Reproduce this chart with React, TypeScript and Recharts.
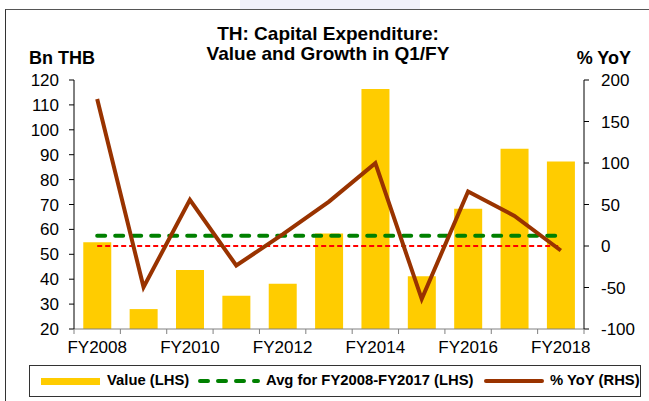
import React from 'react';
import { ComposedChart, Bar, Line, XAxis, YAxis } from 'recharts';

// Q1 capital expenditure, Bn THB, and growth, % YoY
const years = ['FY2008', 'FY2009', 'FY2010', 'FY2011', 'FY2012', 'FY2013', 'FY2014', 'FY2015', 'FY2016', 'FY2017', 'FY2018'];
const capexValue = [54.8, 28.0, 43.7, 33.4, 38.2, 58.4, 116.4, 41.2, 68.3, 92.4, 87.3];
const yoyGrowth = [177, -49.5, 55.6, -23.5, 14, 53.5, 99.8, -63.9, 65.6, 36.3, -5.4];
const avgValue = 57.5; // avg FY2008-FY2017
const zeroLine = 0;

const leftTicks = [20, 30, 40, 50, 60, 70, 80, 90, 100, 110, 120];
const rightTicks = [-100, -50, 0, 50, 100, 150, 200];

const chartData = years.map((year, i) => ({
  year,
  value: capexValue[i],
  avg: avgValue,
  zero: zeroLine,
  yoy: yoyGrowth[i],
}));

const FONT = '"Liberation Sans", Arial, Helvetica, sans-serif';
const PLOT_LEFT = 74;
const PLOT_RIGHT = 584;
const BAND = (PLOT_RIGHT - PLOT_LEFT) / years.length;

// Excel-style category axis: tick marks between categories, every other label
const XTick = (props: any) => {
  const { x, y, index, payload } = props;
  return (
    <g>
      <line x1={x - BAND / 2} y1={y} x2={x - BAND / 2} y2={y + 5} stroke="#808080" />
      {index === years.length - 1 && (
        <line x1={x + BAND / 2} y1={y} x2={x + BAND / 2} y2={y + 5} stroke="#808080" />
      )}
      {index % 2 === 0 && (
        <text x={x} y={y + 24} textAnchor="middle" fontSize={17} fontFamily={FONT} fill="#000">
          {payload.value}
        </text>
      )}
    </g>
  );
};

const legendText: React.CSSProperties = {
  position: 'absolute',
  top: 6,
  fontSize: 14.8,
  fontWeight: 'bold',
  fontFamily: FONT,
  color: '#000',
  whiteSpace: 'nowrap',
};

export default function App() {
  return (
    <div style={{ position: 'absolute', left: 0, top: 0, width: 649, height: 401, background: '#fff', overflow: 'hidden' }}>
      {/* faint watermark above the frame */}
      <div style={{ position: 'absolute', left: 240, top: 0, width: 180, height: 9, background: '#F1F1FA' }} />
      {/* frame */}
      <div
        style={{
          position: 'absolute',
          left: 5,
          top: 9,
          width: 660,
          height: 420,
          borderTop: '1.5px solid #555',
          borderLeft: '1px solid #333',
        }}
      />
      <ComposedChart
        width={649}
        height={401}
        data={chartData}
        margin={{ top: 80, right: 0, bottom: 42, left: 0 }}
        barCategoryGap="20%"
        style={{ position: 'absolute', left: 0, top: 0 }}
      >
        <XAxis
          dataKey="year"
          interval={0}
          tickSize={0}
          tickMargin={0}
          tick={XTick}
          height={30}
          stroke="#808080"
        />
        <YAxis
          yAxisId="left"
          width={74}
          domain={[20, 120]}
          ticks={leftTicks}
          interval={0}
          tickSize={5}
          tickMargin={10}
          stroke="#000"
          tick={{ fontSize: 17, fill: '#000', fontFamily: FONT }}
          allowDataOverflow
        />
        <YAxis
          yAxisId="right"
          orientation="right"
          width={65}
          domain={[-100, 200]}
          ticks={rightTicks}
          interval={0}
          tickSize={5}
          tickMargin={12}
          stroke="#000"
          tick={{ fontSize: 17, fill: '#000', fontFamily: FONT }}
          allowDataOverflow
        />
        <Bar yAxisId="left" dataKey="value" fill="#FFCC00" isAnimationActive={false} />
        <Line
          yAxisId="right"
          dataKey="zero"
          type="linear"
          stroke="#FF0000"
          strokeWidth={2}
          strokeDasharray="5 3"
          dot={false}
          activeDot={false}
          isAnimationActive={false}
        />
        <Line
          yAxisId="left"
          dataKey="avg"
          type="linear"
          stroke="#008000"
          strokeWidth={4}
          strokeDasharray="8 10"
          strokeLinecap="round"
          dot={false}
          activeDot={false}
          isAnimationActive={false}
        />
        <Line
          yAxisId="right"
          dataKey="yoy"
          type="linear"
          stroke="#993300"
          strokeWidth={4}
          dot={false}
          activeDot={false}
          isAnimationActive={false}
        />
      </ComposedChart>

      {/* titles */}
      <svg width={649} height={401} style={{ position: 'absolute', left: 0, top: 0, pointerEvents: 'none' }}>
        <g fontFamily={FONT} fontWeight="bold" fill="#000">
          <text x={328} y={40} fontSize={19} textAnchor="middle">TH: Capital Expenditure:</text>
          <text x={328} y={60} fontSize={19} textAnchor="middle">Value and Growth in Q1/FY</text>
          <text x={29} y={64} fontSize={18}>Bn THB</text>
          <text x={631} y={64} fontSize={18} textAnchor="end">% YoY</text>
        </g>
      </svg>

      {/* legend */}
      <div
        style={{
          position: 'absolute',
          left: 29,
          top: 365,
          width: 612,
          height: 32,
          border: '1px solid #333',
          boxSizing: 'border-box',
        }}
      >
        <div style={{ position: 'absolute', left: 11, top: 12, width: 59, height: 7, background: '#FFCC00' }} />
        <span style={{ ...legendText, left: 77 }}>Value (LHS)</span>
        <svg width={62} height={8} style={{ position: 'absolute', left: 168, top: 11 }}>
          <line x1={2} y1={4} x2={60} y2={4} stroke="#008000" strokeWidth={4} strokeDasharray="8 10" strokeLinecap="round" />
        </svg>
        <span style={{ ...legendText, left: 236 }}>Avg for FY2008-FY2017 (LHS)</span>
        <div style={{ position: 'absolute', left: 454, top: 13, width: 60, height: 4, background: '#993300', borderRadius: 2 }} />
        <span style={{ ...legendText, left: 520 }}>% YoY (RHS)</span>
      </div>
    </div>
  );
}
